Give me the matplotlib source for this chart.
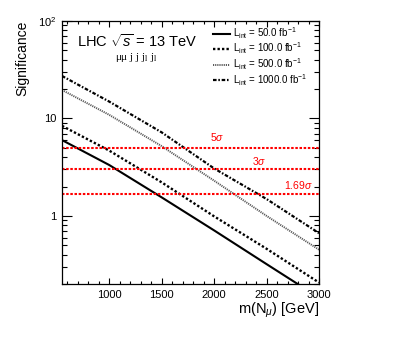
import matplotlib
matplotlib.use('Agg')
import matplotlib.pyplot as plt
from matplotlib.ticker import FixedLocator, MultipleLocator, LogLocator, FuncFormatter

plt.rcParams['font.family'] = ['Liberation Sans', 'DejaVu Sans']
plt.rcParams['mathtext.fontset'] = 'custom'
plt.rcParams['mathtext.rm'] = 'Liberation Sans'
plt.rcParams['mathtext.it'] = 'Liberation Sans:italic'

# data
mass = [550, 1000, 1500, 2000, 2500, 3000]
sig_50 = [6.0, 3.33, 1.55, 0.71, 0.32, 0.145]
sig_100 = [8.4, 4.68, 2.21, 0.99, 0.46, 0.207]
sig_500 = [19.6, 10.9, 5.2, 2.3, 1.0, 0.45]
sig_1000 = [27.3, 14.9, 7.2, 3.07, 1.49, 0.665]
lumi_labels = ['50.0', '100.0', '500.0', '1000.0']

sigma_levels = [5, 3, 1.69]
sigma_labels = ['5$\\sigma$', '3$\\sigma$', '1.69$\\sigma$']
sigma_label_x = [2030, 2430, 2800]
sigma_label_y = [6.4, 3.7, 2.08]

fig = plt.figure(figsize=(4.15, 3.39), dpi=100)
ax = fig.add_axes([0.1494, 0.1622, 0.6193, 0.7758])

styles = [
    dict(color='black', lw=1.5, ls='-'),
    dict(color='black', lw=1.7, ls=(0, (1.0, 0.9))),
    dict(color='0.35', lw=1.4, ls=(0, (0.6, 0.5))),
    dict(color='black', lw=1.6, ls=(0, (1.6, 0.8, 0.7, 0.8))),
]
for vals, lab, st in zip([sig_50, sig_100, sig_500, sig_1000], lumi_labels, styles):
    ax.plot(mass, vals, label='L$_{\\rm int}$ = ' + lab + ' fb$^{-1}$', **st)

for lev, lab, lx, ly in zip(sigma_levels, sigma_labels, sigma_label_x, sigma_label_y):
    ax.axhline(lev, color='#ff0000', lw=1.5, ls=(0, (1.2, 0.8)))
    ax.text(lx, ly, lab, color='#ff0000', fontsize=7.5, ha='center', va='center')

ax.set_yscale('log')
ax.set_xlim(550, 3000)
ax.set_ylim(0.2, 100)

ax.xaxis.set_major_locator(MultipleLocator(500))
ax.xaxis.set_minor_locator(MultipleLocator(100))
ax.yaxis.set_major_locator(FixedLocator([1, 10, 100]))
ax.yaxis.set_minor_locator(LogLocator(base=10, subs=range(2, 10)))
ax.yaxis.set_major_formatter(FuncFormatter(lambda v, p: {1: '1', 10: '10', 100: '10$^{2}$'}.get(int(round(v)), '')))
ax.yaxis.set_minor_formatter(FuncFormatter(lambda v, p: ''))

ax.tick_params(which='both', direction='in', top=True, right=True, labelsize=8, width=0.8)
ax.tick_params(axis='x', which='major', length=4.5, pad=4)
ax.tick_params(axis='x', which='minor', length=2.3)
ax.tick_params(axis='y', which='major', length=7, pad=4)
ax.tick_params(axis='y', which='minor', length=3.5)
for s in ax.spines.values():
    s.set_linewidth(0.9)

ax.set_xlabel('m(N$_{\\mu}$) [GeV]', fontsize=10.5, loc='right', labelpad=1)
ax.set_ylabel('Significance', fontsize=10, loc='top', labelpad=6)

ax.text(0.058, 0.955, 'LHC $\\sqrt{s}$ = 13 TeV', transform=ax.transAxes,
        fontsize=10.5, ha='left', va='top')
ax.text(0.205, 0.885, 'μμ j j j$_{\\rm l}$ j$_{\\rm l}$', transform=ax.transAxes,
        fontsize=8, family='Liberation Serif', math_fontfamily='stix', ha='left', va='top')

ax.legend(loc='upper left', bbox_to_anchor=(0.56, 1.01), frameon=False, fontsize=7,
          handlelength=1.8, handletextpad=0.3, labelspacing=0.0, borderaxespad=0.3)

fig.savefig('out.png', dpi=100)
